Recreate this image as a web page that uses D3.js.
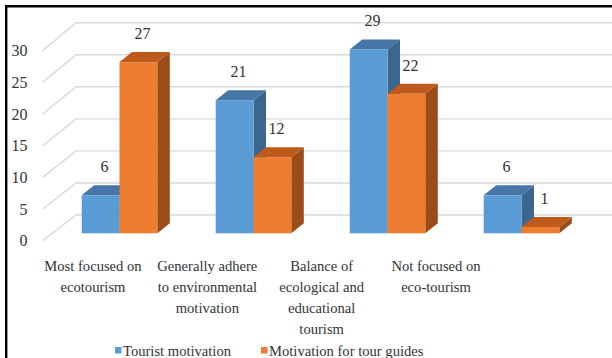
<!DOCTYPE html>
<html>
<head>
<meta charset="utf-8">
<script src="https://cdn.jsdelivr.net/npm/d3@7"></script>
<style>
  html, body { margin: 0; padding: 0; background: #fff; }
  svg { display: block; }
</style>
</head>
<body>
<svg id="chart" width="612" height="358"></svg>
<script>
// Motivation categories and the two series
const categories = [
  "Most focused on ecotourism",
  "Generally adhere to environmental motivation",
  "Balance of ecological and educational tourism",
  "Not focused on eco-tourism"
];
const categoryLines = [
  ["Most focused on", "ecotourism"],
  ["Generally adhere", "to environmental", "motivation"],
  ["Balance of", "ecological and", "educational", "tourism"],
  ["Not focused on", "eco-tourism"]
];
const seriesNames = ["Tourist motivation", "Motivation for tour guides"];
const touristMotivation = [6, 21, 29, 6];
const guideMotivation = [27, 12, 22, 1];
const yTicks = [0, 5, 10, 15, 20, 25, 30];

const colors = {
  front: ["#5B9BD5", "#ED7D31"],
  top:   ["#4676A6", "#BE5B1C"],
  side:  ["#3A6690", "#9C4C18"]
};
const textColor = "#333";
const serif = "Liberation Serif, Tinos, Nimbus Roman, Noto Serif, DejaVu Serif, serif";

const svg = d3.select("#chart");

// 3D depth of the bars and of the back wall
const barDepth = { dx: 12.5, dy: -10 };

// Value scales: bars stand on a plane slightly behind the front axis line
const yBar = d3.scaleLinear().domain([0, 30]).range([233.3, 43.1]);
const yFront = d3.scaleLinear().domain([0, 30]).range([240.7, 50.7]);
const yBack = d3.scaleLinear().domain([0, 30]).range([215, 22.7]);
const xFrontEdge = 42.7, xBackEdge = 76, xRight = 612;

// Category scales
const x0 = d3.scaleBand().domain(categories).range([52.5, 588.5])
  .paddingInner(0.436).paddingOuter(0.218);
const x1 = d3.scaleBand().domain(seriesNames).range([0, x0.bandwidth()]);
const xLabel = d3.scalePoint().domain(categories).range([93, 436]);

// Gridlines: side wall diagonal + back wall horizontal
const grid = svg.append("g").attr("stroke", "#D9D9D9").attr("stroke-width", 1.4).attr("fill", "none");
grid.selectAll("path").data(yTicks).join("path")
  .attr("d", v => `M${xFrontEdge},${yFront(v)}L${xBackEdge},${yBack(v)}H${xRight}`);

// Y tick labels
svg.append("g").selectAll("text").data(yTicks).join("text")
  .attr("x", 27.5).attr("y", v => yFront(v)).attr("dy", "0.36em")
  .attr("text-anchor", "end").style("font-family", serif).style("font-size", "16px").attr("fill", textColor)
  .text(d => d);

// Bars
const rows = categories.map((c, i) => ({
  cat: c,
  vals: [touristMotivation[i], guideMotivation[i]]
}));

const groups = svg.append("g").selectAll("g").data(rows).join("g")
  .attr("transform", d => `translate(${x0(d.cat)},0)`);

groups.each(function(d) {
  const g = d3.select(this);
  d.vals.forEach((v, s) => {
    const xl = x1(seriesNames[s]);
    const xr = xl + x1.bandwidth();
    const yt = yBar(v), yb = yBar(0);
    const { dx, dy } = barDepth;
    // side face
    g.append("path")
      .attr("d", `M${xr},${yt}L${xr + dx},${yt + dy}L${xr + dx},${yb + dy}L${xr},${yb}Z`)
      .attr("fill", colors.side[s]);
    // top face
    g.append("path")
      .attr("d", `M${xl},${yt}L${xl + dx},${yt + dy}L${xr + dx},${yt + dy}L${xr},${yt}Z`)
      .attr("fill", colors.top[s]);
    // front face
    g.append("rect")
      .attr("x", xl).attr("y", yt)
      .attr("width", x1.bandwidth()).attr("height", yb - yt)
      .attr("fill", colors.front[s]);
  });
});

// Value labels above the bars
groups.each(function(d) {
  const g = d3.select(this);
  d.vals.forEach((v, s) => {
    g.append("text")
      .attr("x", x1(seriesNames[s]) + x1.bandwidth() / 2 + 4)
      .attr("y", yBar(v) + barDepth.dy - 13)
      .attr("text-anchor", "middle").style("font-family", serif).style("font-size", "16px").attr("fill", textColor)
      .text(v);
  });
});

// Category labels (wrapped)
const catLabels = svg.append("g").selectAll("text").data(categories).join("text")
  .attr("text-anchor", "middle").style("font-family", serif).style("font-size", "14.6px").attr("fill", textColor)
  .attr("x", d => xLabel(d)).attr("y", 270.7);
catLabels.each(function(d, i) {
  d3.select(this).selectAll("tspan").data(categoryLines[i]).join("tspan")
    .attr("x", xLabel(d)).attr("dy", (t, j) => j === 0 ? 0 : 21.2)
    .text(t => t);
});

// Legend
const legendPos = [115, 261];
const legend = svg.append("g").selectAll("g").data(seriesNames).join("g")
  .attr("transform", (d, i) => `translate(${legendPos[i]},0)`);
legend.append("rect").attr("x", 0).attr("y", 347).attr("width", 6.5).attr("height", 6.5)
  .attr("fill", (d, i) => colors.front[i]);
legend.append("text").attr("x", 8).attr("y", 356)
  .style("font-family", serif).style("font-size", "14.6px").attr("fill", textColor)
  .text(d => d);

// Frame on the top and left
svg.append("path").attr("d", "M6.2,358V6.2H612")
  .attr("fill", "none").attr("stroke", "#000").attr("stroke-width", 2.4);
</script>
</body>
</html>
